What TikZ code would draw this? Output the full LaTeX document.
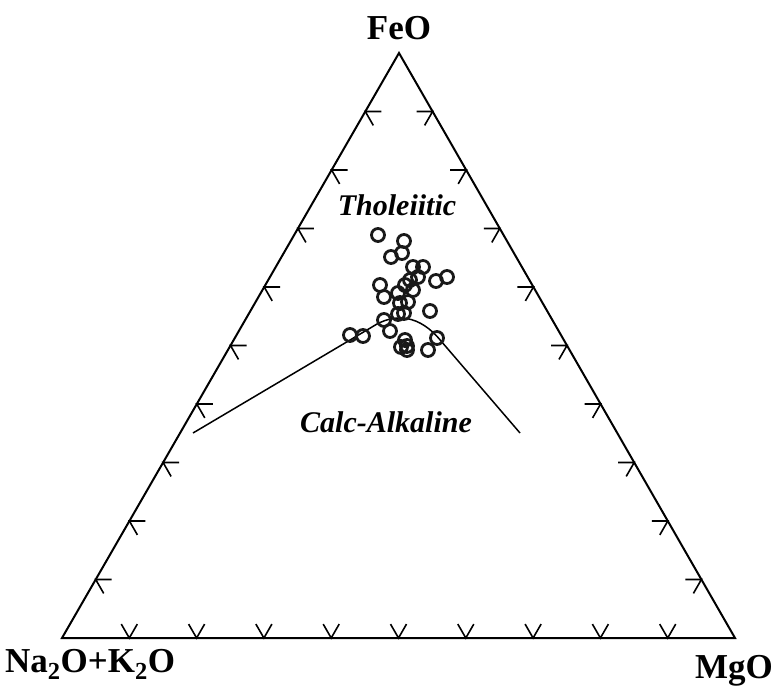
\documentclass[tikz,border=0pt]{standalone}
\usepackage{fontspec}
\setmainfont{Liberation Serif}
\usepackage{tikz}
\usetikzlibrary{calc, positioning}
\tikzset{
	sidenode/.style={
			inner sep=0pt,
			font=\fontsize{35}{40}\selectfont\bfseries
		},
	fieldnode/.style={
			inner sep=0pt,
			font=\fontsize{30}{34}\selectfont\bfseries\itshape
		},
	samplenode/.style={
			circle,
			draw=black!90,
			line width=2.8pt,
			minimum size=13pt,
			inner sep=0pt
		},
	tickline/.style={
			line width=1.6pt
		},
	boundaryline/.style={
			line width=1.5pt
		}
}
\begin{document}
\begin{tikzpicture}[x=1pt, y=-1pt]
\useasboundingbox (0,0) rectangle (776,687);
\coordinate (fe) at (399,53);
\coordinate (na) at (62,638);
\coordinate (mg) at (735,638);

\draw[line width=2pt, line join=miter] (na) -- (fe) -- (mg) -- cycle;

% ticks
\foreach \k in {1,...,9} {
	\draw[tickline] ($(na)!\k/10!(fe)$) +(16,0) -- +(0,0) -- +(8,13.9);
	\draw[tickline] ($(mg)!\k/10!(fe)$) +(-16,0) -- +(0,0) -- +(-8,13.9);
	\draw[tickline] ($(na)!\k/10!(mg)$) +(-8,-13.9) -- +(0,0) -- +(8,-13.9);
}

\node[sidenode, anchor=base] (lfe) at (399,40) {FeO};
\node[sidenode, anchor=base west] (lna) at (5,672) {Na\textsubscript{2}O+K\textsubscript{2}O};
\node[sidenode, anchor=base east] (lmg) at (773,678) {MgO};

% dividing line
\coordinate (ca1) at (193,433);
\coordinate (ca2) at (520,433);
\draw[boundaryline] (ca1) -- (372,327) .. controls (395,312) and (420,315) .. (441,341) -- (ca2);

\node[fieldnode, anchor=base] (tho) at (397,215) {Tholeiitic};
\node[fieldnode, anchor=base] (calc) at (386,432) {Calc-Alkaline};

% samples
\node[samplenode] (s1) at (378,235) {};
\node[samplenode] (s2) at (404,241) {};
\node[samplenode] (s3) at (391,257) {};
\node[samplenode] (s4) at (402,253) {};
\node[samplenode] (s5) at (413,267) {};
\node[samplenode] (s6) at (423,267) {};
\node[samplenode] (s7) at (436,281) {};
\node[samplenode] (s8) at (447,277) {};
\node[samplenode] (s9) at (418,277) {};
\node[samplenode] (s10) at (380,285) {};
\node[samplenode] (s11) at (384,297) {};
\node[samplenode] (s12) at (405,285) {};
\node[samplenode] (s13) at (413,290) {};
\node[samplenode] (s14) at (398,293) {};
\node[samplenode] (s15) at (400,303) {};
\node[samplenode] (s16) at (408,302) {};
\node[samplenode] (s17) at (398,314) {};
\node[samplenode] (s18) at (404,313) {};
\node[samplenode] (s19) at (384,320) {};
\node[samplenode] (s20) at (390,331) {};
\node[samplenode] (s21) at (430,311) {};
\node[samplenode] (s22) at (350,335) {};
\node[samplenode] (s23) at (363,336) {};
\node[samplenode] (s24) at (405,340) {};
\node[samplenode] (s25) at (407,346) {};
\node[samplenode] (s26) at (407,350) {};
\node[samplenode] (s27) at (401,347) {};
\node[samplenode] (s28) at (428,350) {};
\node[samplenode] (s29) at (437,338) {};
\node[samplenode] (s30) at (410,280) {};

\end{tikzpicture}
\end{document}
